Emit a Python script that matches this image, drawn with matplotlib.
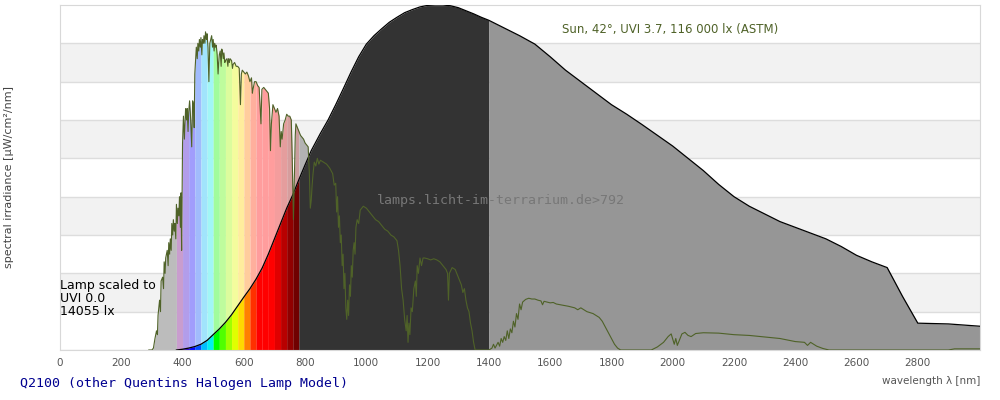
import numpy as np
import matplotlib
matplotlib.use("Agg")
import matplotlib.pyplot as plt

# lamp spectrum (black outline), (nm, irradiance); one background band = 1
lamp = [
    (380, 0.0), (400, 0.02), (420, 0.05), (440, 0.09), (460, 0.15),
    (480, 0.25), (500, 0.4), (520, 0.55), (540, 0.72), (560, 0.92),
    (580, 1.15), (600, 1.38), (620, 1.6), (640, 1.85), (660, 2.14),
    (680, 2.5), (700, 2.9), (720, 3.3), (740, 3.7), (760, 4.05),
    (780, 4.45), (800, 4.83), (820, 5.2), (850, 5.65), (875, 6.0),
    (900, 6.4), (925, 6.82), (950, 7.25), (975, 7.65), (1000, 7.98),
    (1025, 8.2), (1050, 8.38), (1075, 8.55), (1100, 8.68), (1125, 8.8),
    (1150, 8.88), (1175, 8.95), (1200, 8.99), (1225, 9.0), (1250, 9.0),
    (1275, 8.98), (1300, 8.93), (1325, 8.85), (1350, 8.77), (1375, 8.68),
    (1400, 8.6), (1450, 8.4), (1500, 8.2), (1550, 7.98), (1600, 7.65),
    (1650, 7.3), (1700, 7.0), (1750, 6.7), (1800, 6.4), (1850, 6.15),
    (1900, 5.88), (1950, 5.6), (2000, 5.32), (2050, 5.0), (2100, 4.68),
    (2150, 4.32), (2200, 4.0), (2250, 3.75), (2300, 3.55), (2350, 3.35),
    (2400, 3.2), (2450, 3.05), (2500, 2.9), (2550, 2.7), (2600, 2.47),
    (2650, 2.3), (2700, 2.15), (2750, 1.4), (2800, 0.7), (2900, 0.68),
    (3003, 0.62),
]

# sun spectrum (ASTM, 42 deg), same units
sun = [
    (290, 0.0), (300, 0.0), (305, 0.05), (310, 0.3), (315, 0.5), (318, 0.4),
    (320, 0.9), (325, 1.3), (328, 1.0), (330, 1.8), (335, 1.9), (338, 1.6),
    (340, 2.3), (343, 2.0), (345, 2.4), (350, 2.6), (353, 2.2), (355, 2.8),
    (358, 2.5), (360, 2.9), (363, 2.6), (365, 3.3), (368, 3.0), (370, 3.4),
    (373, 3.1), (375, 3.3), (378, 2.9), (380, 3.8), (383, 3.3), (385, 3.7),
    (388, 3.5), (390, 4.0), (393, 3.2), (395, 4.1), (397, 2.6), (400, 5.4),
    (403, 6.1), (406, 5.5), (410, 6.3), (413, 6.0), (415, 6.3), (418, 5.7),
    (420, 6.2), (423, 6.5), (426, 6.1), (430, 5.3), (433, 6.5), (436, 6.4),
    (438, 5.8), (440, 7.2), (443, 7.6), (445, 7.9), (448, 7.6), (450, 8.0),
    (453, 7.8), (455, 8.1), (458, 7.9), (460, 8.15), (463, 7.7), (465, 8.1),
    (468, 8.0), (470, 8.2), (473, 8.0), (475, 8.3), (478, 8.1), (480, 8.25),
    (483, 7.9), (486, 7.0), (489, 8.0), (492, 8.1), (495, 8.2), (498, 7.9),
    (500, 8.1), (503, 7.8), (505, 8.0), (508, 7.9), (510, 7.95), (513, 7.7),
    (516, 7.2), (518, 7.5), (520, 7.7), (523, 7.8), (526, 7.4), (528, 7.85),
    (530, 7.8), (533, 7.6), (535, 7.75), (538, 7.5), (540, 7.55), (545, 7.6),
    (548, 7.4), (550, 7.6), (553, 7.5), (555, 7.6), (560, 7.55), (563, 7.35),
    (565, 7.45), (570, 7.5), (575, 7.4), (580, 7.4), (585, 7.35), (589, 6.4),
    (592, 7.2), (595, 7.3), (600, 7.25), (605, 7.2), (610, 7.25), (615, 7.15),
    (620, 7.0), (625, 7.1), (628, 6.7), (630, 6.8), (635, 7.0), (640, 7.0),
    (645, 6.9), (650, 6.85), (656, 5.9), (659, 6.8), (665, 6.85), (670, 6.8),
    (675, 6.75), (680, 6.7), (684, 6.3), (687, 5.2), (690, 5.9), (695, 6.4),
    (700, 6.3), (705, 6.2), (710, 6.3), (715, 6.1), (719, 5.3), (722, 5.7),
    (725, 5.5), (730, 5.9), (735, 6.0), (740, 6.15), (745, 6.1), (750, 6.1),
    (755, 6.0), (758, 5.0), (762, 3.4), (765, 4.5), (768, 5.6), (770, 5.9),
    (775, 5.8), (780, 5.7), (785, 5.6), (790, 5.55), (795, 5.5), (800, 5.4),
    (805, 5.35), (810, 5.3), (814, 4.6), (817, 3.7), (820, 3.9), (823, 4.3),
    (826, 4.6), (830, 4.9), (835, 4.8), (840, 5.0), (845, 4.85), (850, 4.95),
    (860, 4.9), (870, 4.85), (880, 4.75), (890, 4.6), (895, 4.3), (900, 4.35),
    (903, 3.6), (906, 4.0), (909, 3.2), (912, 3.5), (915, 2.8), (918, 3.0),
    (921, 2.2), (924, 2.5), (927, 1.6), (930, 2.0), (933, 1.1), (936, 0.8),
    (939, 1.3), (942, 0.9), (945, 1.7), (948, 1.4), (951, 2.2), (954, 1.9),
    (957, 2.6), (960, 2.8), (963, 2.5), (966, 3.2), (970, 3.4), (975, 3.3),
    (980, 3.65), (990, 3.75), (1000, 3.7), (1010, 3.6), (1020, 3.5),
    (1030, 3.4), (1040, 3.35), (1050, 3.25), (1060, 3.15), (1070, 3.1),
    (1080, 3.0), (1090, 2.95), (1100, 2.85), (1105, 2.6), (1110, 2.2),
    (1115, 1.6), (1120, 1.3), (1125, 0.8), (1130, 0.5), (1133, 0.9),
    (1136, 0.2), (1139, 0.7), (1142, 0.4), (1146, 1.1), (1150, 1.0),
    (1155, 1.6), (1160, 1.8), (1163, 1.4), (1166, 2.2), (1170, 2.0),
    (1175, 2.4), (1180, 2.2), (1185, 2.4), (1190, 2.4), (1200, 2.38),
    (1210, 2.35), (1220, 2.38), (1230, 2.35), (1240, 2.3), (1250, 2.2),
    (1260, 2.1), (1265, 2.0), (1268, 1.3), (1271, 2.0), (1280, 2.15),
    (1290, 2.1), (1300, 1.9), (1310, 1.7), (1315, 1.5), (1320, 1.6),
    (1325, 1.3), (1330, 1.1), (1335, 1.0), (1340, 0.7), (1345, 0.5),
    (1350, 0.2), (1355, 0.0), (1400, 0.0), (1410, 0.05), (1415, 0.15),
    (1420, 0.05), (1430, 0.2), (1435, 0.1), (1440, 0.3), (1445, 0.2),
    (1450, 0.35), (1455, 0.25), (1460, 0.5), (1465, 0.3), (1470, 0.55),
    (1475, 0.45), (1480, 0.75), (1485, 0.6), (1490, 0.95), (1495, 0.8),
    (1500, 1.2), (1505, 1.05), (1510, 1.25), (1520, 1.32), (1530, 1.35),
    (1540, 1.33), (1550, 1.33), (1560, 1.3), (1570, 1.28), (1575, 1.18),
    (1580, 1.27), (1590, 1.25), (1600, 1.23), (1610, 1.24), (1620, 1.2),
    (1640, 1.17), (1660, 1.14), (1680, 1.1), (1690, 1.05), (1700, 1.1),
    (1720, 1.0), (1740, 0.95), (1760, 0.85), (1770, 0.75), (1780, 0.6),
    (1790, 0.45), (1800, 0.3), (1810, 0.15), (1820, 0.05), (1830, 0.0),
    (1930, 0.0), (1950, 0.08), (1970, 0.2), (1985, 0.35), (1995, 0.42),
    (2005, 0.15), (2010, 0.3), (2015, 0.12), (2030, 0.42), (2040, 0.46),
    (2050, 0.38), (2060, 0.35), (2075, 0.43), (2100, 0.45), (2150, 0.44),
    (2200, 0.4), (2250, 0.38), (2300, 0.34), (2350, 0.3), (2400, 0.22),
    (2430, 0.2), (2440, 0.12), (2450, 0.2), (2470, 0.1), (2490, 0.04),
    (2510, 0.0), (2900, 0.0), (2920, 0.03), (3003, 0.03),
]

# visible spectrum in 20 nm bands, starting at 380 nm
band_edges = list(range(380, 781, 20))
band_colors = ["#6c0082", "#3000d0", "#0000ff", "#0050ff", "#00c0ff",
               "#00f0f0", "#00ff00", "#50ff00", "#a0ff00", "#e0ff00",
               "#ffd800", "#ff8000", "#ff3000", "#ff0000", "#ff0000",
               "#ff0000", "#e00000", "#b80000", "#900000", "#700000"]

xticks = list(range(0, 2801, 200))
XMAX = 3003

lamp_nm, lamp_irr = map(np.array, zip(*lamp))
sun_nm, sun_irr = map(np.array, zip(*sun))


def pastel(c):
    rgb = np.array(matplotlib.colors.to_rgb(c))
    return tuple(rgb * 0.37 + 0.63 * np.array([1.0, 0.98, 0.98]))


def segment(nm, irr, lo, hi):
    inner = (nm > lo) & (nm < hi)
    x = np.concatenate([[lo], nm[inner], [hi]])
    return x, np.interp(x, nm, irr)


fig = plt.figure(figsize=(10, 4), dpi=100)
ax = fig.add_axes([0.06, 0.125, 0.92, 0.8625])
ax.set_xlim(0, XMAX)
ax.set_ylim(0, 9)

# alternating background bands
for k in range(9):
    if k % 2 == 1:
        ax.axhspan(k, k + 1, color="#f2f2f2", lw=0, zorder=0)
    ax.axhline(k, color="#dddddd", lw=1, zorder=0.5)

# sun fill (behind lamp)
x, y = segment(sun_nm, sun_irr, 290, 380)
ax.fill_between(x, y, color="#bcbcbc", lw=0, zorder=1)
for lo, hi, c in zip(band_edges[:-1], band_edges[1:], band_colors):
    x, y = segment(sun_nm, sun_irr, lo, hi)
    ax.fill_between(x, y, color=pastel(c), lw=0, zorder=1)
x, y = segment(sun_nm, sun_irr, 780, XMAX)
ax.fill_between(x, y, color="#b2b2b2", lw=0, zorder=1)

# lamp fill
for lo, hi, c in zip(band_edges[:-1], band_edges[1:], band_colors):
    x, y = segment(lamp_nm, lamp_irr, lo, hi)
    ax.fill_between(x, y, color=c, lw=0, zorder=2)
x, y = segment(lamp_nm, lamp_irr, 780, 1400)
ax.fill_between(x, y, color="#333333", lw=0, zorder=2)
x, y = segment(lamp_nm, lamp_irr, 1400, XMAX)
ax.fill_between(x, y, color="#969696", lw=0, zorder=2)
ax.plot(lamp_nm, lamp_irr, color="black", lw=0.9, zorder=3)

# sun outline
ax.plot(sun_nm, sun_irr, color="#4f6228", lw=0.8, zorder=4)

ax.text(1640, 8.35, "Sun, 42°, UVI 3.7, 116 000 lx (ASTM)", color="#4f6228",
        fontsize=8.5, va="center", ha="left", zorder=5)
ax.text(0, 1.85, "Lamp scaled to\nUVI 0.0\n14055 lx", color="black",
        fontsize=9, va="top", ha="left", linespacing=1.0, zorder=5)
ax.text(1440, 3.9, "lamps.licht-im-terrarium.de>792", color="#777777",
        family="DejaVu Sans Mono", fontsize=9.5, va="center", ha="center",
        zorder=5)

ax.set_xticks(xticks)
ax.set_yticks([])
ax.tick_params(axis="x", length=0, pad=6, labelsize=7.5, labelcolor="#555555")
for s in ax.spines.values():
    s.set_color("#d8d8d8")

ax.set_ylabel("spectral irradiance [µW/cm²/nm]", fontsize=8, color="#444444")
ax.yaxis.set_label_coords(-0.05, 0.5)
fig.text(0.98, 0.047, "wavelength λ [nm]", fontsize=7.5, color="#555555",
         ha="right", va="center")
fig.text(0.02, 0.04, "Q2100 (other Quentins Halogen Lamp Model)", color="#000090",
         family="DejaVu Sans Mono", fontsize=9.5, ha="left", va="center")

fig.savefig("out.png", dpi=100)
